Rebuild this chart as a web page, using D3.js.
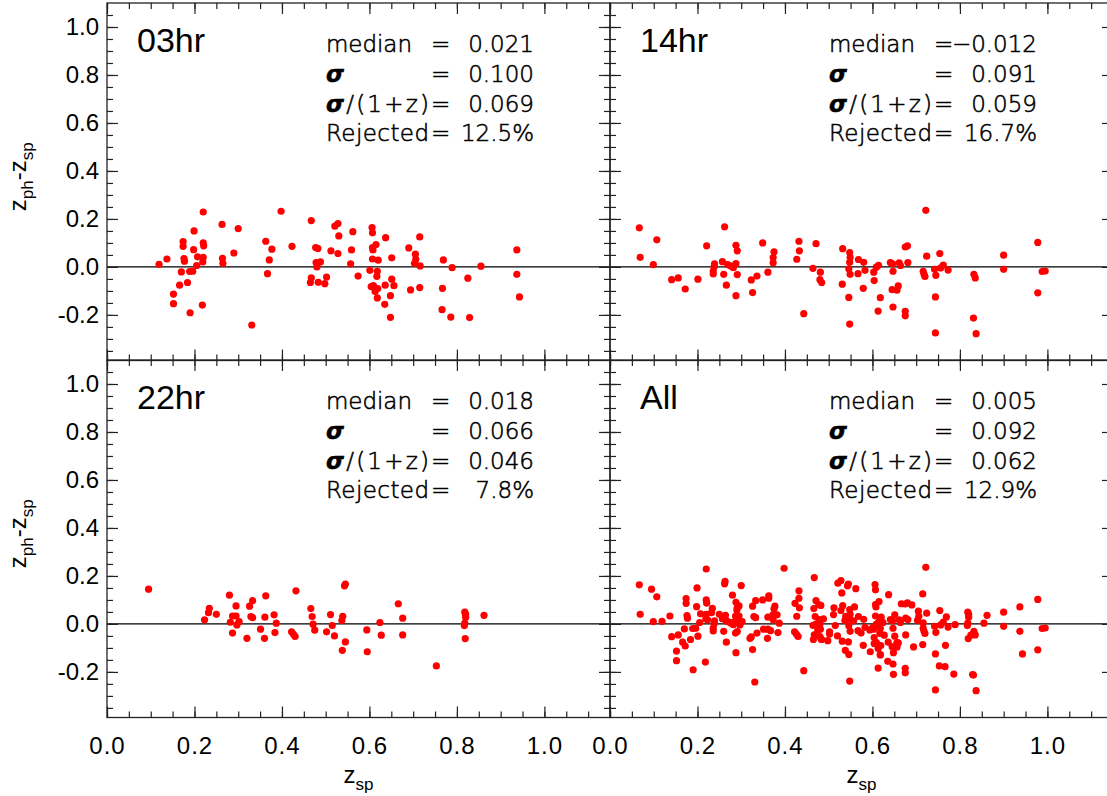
<!DOCTYPE html>
<html>
<head>
<meta charset="utf-8">
<script src="https://cdn.jsdelivr.net/npm/d3@7"></script>
<style>
  body { margin: 0; background: #fff; }
  svg { display: block; }
</style>
</head>
<body>
<svg id="chart"></svg>
<script>
// photometric vs spectroscopic redshift residuals, one panel per field + all
var width = 1107;
var height = 796;

// 03hr field
var zsp03 = [0.119,0.137,0.174,0.174,0.176,0.177,0.170,0.166,0.152,0.152,0.184,0.190,0.199,0.198,0.189,0.196,0.205,0.207,0.220,0.220,
  0.221,0.220,0.219,0.218,0.263,0.264,0.265,0.300,0.290,0.331,0.363,0.377,0.371,0.367,0.398,0.423,0.467,0.477,0.482,0.478,
  0.488,0.480,0.467,0.465,0.483,0.502,0.498,0.512,0.521,0.528,0.530,0.528,0.562,0.559,0.557,0.574,
  0.606,0.607,0.607,0.608,0.615,0.607,0.620,0.601,0.618,0.617,0.604,0.609,0.613,0.619,0.618,0.637,0.636,0.635,0.651,0.651,
  0.656,0.648,0.648,0.690,0.715,0.705,0.706,0.703,0.716,0.694,0.715,0.769,0.789,0.767,0.766,0.786,0.825,0.829,0.855,0.937,
  0.937,0.943];
var dz03 = [0.011,0.033,0.106,0.086,0.035,0.024,-0.021,-0.076,-0.113,-0.153,-0.065,-0.191,0.150,0.072,-0.019,-0.018,0.006,0.042,0.229,0.100,
  0.088,0.040,0.021,-0.159,0.177,0.036,0.015,0.160,0.058,-0.242,0.107,0.074,0.029,-0.028,0.232,0.086,0.193,0.081,0.077,0.018,
  0.021,0.000,-0.046,-0.065,-0.064,-0.042,-0.070,0.067,0.170,0.181,0.129,0.056,0.147,0.071,0.013,-0.038,
  0.164,0.142,0.081,0.071,0.093,0.033,0.028,-0.014,-0.018,-0.039,-0.082,-0.078,-0.102,-0.090,-0.129,0.122,-0.076,-0.156,0.038,-0.051,
  -0.078,-0.120,-0.210,0.079,0.125,0.053,0.032,0.015,0.004,-0.096,-0.086,0.029,-0.003,-0.089,-0.178,-0.209,-0.047,-0.211,0.003,0.071,
  -0.031,-0.125];

// 14hr field
var zsp14 = [0.067,0.069,0.107,0.099,0.141,0.156,0.172,0.201,0.221,0.239,0.238,0.236,0.236,0.257,0.262,0.269,0.260,0.266,0.276,0.282,
  0.288,0.288,0.291,0.291,0.288,0.323,0.326,0.336,0.349,0.361,0.375,0.373,0.373,0.432,0.433,0.427,0.443,0.471,0.464,0.481,
  0.480,0.484,0.532,0.548,0.549,0.548,0.546,0.549,0.531,0.546,0.548,0.568,0.567,
  0.580,0.583,0.579,0.603,0.604,0.609,0.614,0.618,0.613,0.641,0.646,0.647,0.645,0.656,0.659,0.647,0.661,0.664,0.675,0.680,
  0.681,0.675,0.675,0.722,0.724,0.716,0.718,0.720,0.754,0.742,0.756,0.762,0.773,0.745,0.744,0.744,0.832,0.835,0.831,0.837,
  0.900,0.900,0.978,0.978,0.988,0.995];
var dz14 = [0.163,0.040,0.113,0.010,-0.053,-0.046,-0.092,-0.051,0.088,0.013,0.001,-0.017,-0.029,0.022,0.167,0.010,-0.031,-0.076,0.004,-0.003,
  0.014,0.090,0.067,-0.032,-0.120,-0.054,-0.107,-0.038,0.100,-0.022,0.063,0.039,0.017,0.107,0.067,0.032,-0.195,0.097,-0.006,-0.022,
  -0.053,-0.065,0.076,0.060,0.040,0.019,-0.008,-0.031,-0.072,-0.127,-0.238,0.031,-0.028,
  0.019,-0.014,-0.089,-0.022,-0.057,-0.001,0.007,-0.128,-0.184,0.018,0.013,-0.018,-0.095,-0.097,-0.079,-0.167,0.017,0.006,0.083,0.088,
  0.018,-0.185,-0.204,0.236,0.045,-0.018,-0.031,-0.040,0.056,-0.010,-0.004,0.008,-0.013,-0.035,-0.125,-0.275,-0.031,-0.046,-0.213,-0.278,
  0.049,-0.010,0.102,-0.108,-0.019,-0.017];

// 22hr field
var zsp22 = [0.095,0.223,0.232,0.234,0.250,0.280,0.282,0.287,0.287,0.295,0.295,0.297,0.302,0.320,0.326,0.333,0.329,0.333,0.363,0.361,
  0.351,0.360,0.382,0.387,0.384,0.432,0.422,0.426,0.430,0.466,0.469,0.471,0.475,0.502,0.511,0.515,0.520,0.539,0.537,0.543,
  0.545,0.545,0.538,0.594,0.595,0.624,0.627,0.666,0.676,0.676,0.753,0.818,0.820,0.820,0.818,0.817,0.819,0.862];
var dz22 = [0.145,0.017,0.047,0.065,0.040,0.120,0.007,0.033,-0.038,0.075,0.033,-0.004,0.010,-0.060,0.074,0.097,0.031,0.026,0.117,0.028,
  -0.022,-0.060,0.038,0.003,-0.036,0.138,-0.033,-0.042,-0.052,0.064,0.031,-0.001,-0.026,-0.033,0.039,-0.007,-0.050,0.032,0.014,0.159,
  0.166,-0.075,-0.110,-0.025,-0.116,0.006,-0.047,0.084,0.024,-0.046,-0.175,0.049,0.040,0.028,0.003,-0.007,-0.061,0.036];

var fieldNames = ["03hr", "14hr", "22hr", "All"];
var medians = ["0.021", "\u22120.012", "0.018", "0.005"];
var sigmas = ["0.100", "0.091", "0.066", "0.092"];
var sigmaNorms = ["0.069", "0.059", "0.046", "0.062"];
var rejected = ["12.5%", "16.7%", "7.8%", "12.9%"];

var xMajor = [0, 0.2, 0.4, 0.6, 0.8, 1.0];
var yMajor = [-0.2, 0, 0.2, 0.4, 0.6, 0.8, 1.0];

function pairs(xs, ys) {
  return xs.map(function(x, i) { return {x: x, y: ys[i]}; });
}
var fieldPoints = [pairs(zsp03, dz03), pairs(zsp14, dz14), pairs(zsp22, dz22)];
fieldPoints.push(fieldPoints[0].concat(fieldPoints[1], fieldPoints[2]));

var colLeft = [107, 610];
var rowTop = [3, 360];
var panelW = 503;
var panelH = 357.5;

var xMinor = d3.range(0, 1.151, 0.05);
var yMinor = d3.range(-0.35, 1.06, 0.05);

var svg = d3.select("#chart")
  .attr("width", width)
  .attr("height", height);

svg.append("rect")
  .attr("width", width)
  .attr("height", height)
  .attr("fill", "#fff");

var tickFont = "'Liberation Sans', Arial, sans-serif";
var statFont = "'DejaVu Sans', sans-serif";
var fmt = function(d) { return d.toFixed(1); };

// thin vector-style lettering for the statistics block
function statText(sel) {
  return sel
    .style("font-family", statFont)
    .style("font-weight", 300)
    .style("font-size", "23px")
    .attr("stroke", "#000")
    .attr("stroke-width", 0.55);
}

fieldPoints.forEach(function(pts, i) {
  var col = i % 2, row = Math.floor(i / 2);
  var left = colLeft[col], top = rowTop[row];
  var right = left + panelW, bottom = top + panelH;

  var x = d3.scaleLinear().domain([0, 1.15]).range([left, right]);
  var y = d3.scaleLinear().domain([-0.39, 1.1]).range([bottom, top]);

  var g = svg.append("g");

  // zero line
  g.append("line")
    .attr("x1", left).attr("x2", right)
    .attr("y1", y(0)).attr("y2", y(0))
    .attr("stroke", "#000")
    .attr("stroke-width", 1.2);

  g.selectAll("circle")
    .data(pts)
    .enter()
    .append("circle")
    .attr("cx", d => x(d.x))
    .attr("cy", d => y(d.y))
    .attr("r", 3.6)
    .attr("fill", "#ff0000");

  // axes, ticks pointing inward on all four sides
  function addAxis(axis, tx, ty) {
    var a = g.append("g")
      .attr("transform", "translate(" + tx + "," + ty + ")")
      .call(axis);
    a.select(".domain").remove();
    a.selectAll("line").attr("stroke", "#222").attr("stroke-width", 1.2);
    a.selectAll("text")
      .attr("fill", "#000")
      .style("font-family", tickFont)
      .style("font-size", "24px");
    return a;
  }
  var showX = row === 1, showY = col === 0;

  addAxis(d3.axisBottom(x).tickValues(xMinor).tickSize(-6).tickFormat(""), 0, bottom);
  var xa = addAxis(d3.axisBottom(x).tickValues(xMajor).tickSize(-11).tickPadding(19)
    .tickFormat(showX ? fmt : ""), 0, bottom);
  xa.selectAll("text").style("letter-spacing", "1px");
  addAxis(d3.axisTop(x).tickValues(xMinor).tickSize(-6).tickFormat(""), 0, top);
  addAxis(d3.axisTop(x).tickValues(xMajor).tickSize(-11).tickFormat(""), 0, top);

  addAxis(d3.axisLeft(y).tickValues(yMinor).tickSize(-6).tickFormat(""), left, 0);
  addAxis(d3.axisLeft(y).tickValues(yMajor).tickSize(-11).tickPadding(8)
    .tickFormat(showY ? fmt : ""), left, 0);
  addAxis(d3.axisRight(y).tickValues(yMinor).tickSize(-6).tickFormat(""), right, 0);
  addAxis(d3.axisRight(y).tickValues(yMajor).tickSize(-11).tickFormat(""), right, 0);

  // frame
  g.append("rect")
    .attr("x", left).attr("y", top)
    .attr("width", panelW).attr("height", panelH)
    .attr("fill", "none")
    .attr("stroke", "#222")
    .attr("stroke-width", 1.3);

  // field name
  g.append("text")
    .attr("x", left + 30)
    .attr("y", top + 48.5)
    .style("font-family", tickFont)
    .style("font-size", "34px")
    .text(fieldNames[i]);

  // statistics block
  var labels = ["median", "\u03c3", "\u03c3/(1+z)", "Rejected"];
  var labelWidths = [86, 0, 103, 103];
  var values = [medians[i], sigmas[i], sigmaNorms[i], rejected[i]];
  labels.forEach(function(lab, k) {
    var by = top + 49 + k * 29.8;
    var t = statText(g.append("text")
      .attr("x", left + 219)
      .attr("y", by));
    if (lab.charAt(0) === "\u03c3") {
      t.append("tspan").style("font-weight", "bold").style("font-style", "italic").text("\u03c3");
      if (lab.length > 1) t.append("tspan").text(lab.slice(1));
    } else {
      t.text(lab);
    }
    if (labelWidths[k]) t.attr("textLength", labelWidths[k]).attr("lengthAdjust", "spacing");
    statText(g.append("text")
      .attr("x", left + 324)
      .attr("y", by))
      .text("=");
    statText(g.append("text")
      .attr("x", left + 427)
      .attr("y", by)
      .attr("text-anchor", "end"))
      .text(values[k]);
  });

  // axis titles
  if (showY) {
    var yl = svg.append("text")
      .attr("transform", "translate(26," + ((top + bottom) / 2 - 5) + ") rotate(-90)")
      .attr("text-anchor", "middle")
      .style("font-family", tickFont)
      .style("font-size", "24px");
    yl.append("tspan").text("z");
    yl.append("tspan").attr("dy", 7).style("font-size", "17px").text("ph");
    yl.append("tspan").attr("dy", -7).text("-z");
    yl.append("tspan").attr("dy", 7).style("font-size", "17px").text("sp");
  }
  if (showX) {
    var xl = svg.append("text")
      .attr("x", (left + right) / 2)
      .attr("y", 783)
      .attr("text-anchor", "middle")
      .style("font-family", tickFont)
      .style("font-size", "24px");
    xl.append("tspan").text("z");
    xl.append("tspan").attr("dy", 7).style("font-size", "17px").text("sp");
  }
});
</script>
</body>
</html>
